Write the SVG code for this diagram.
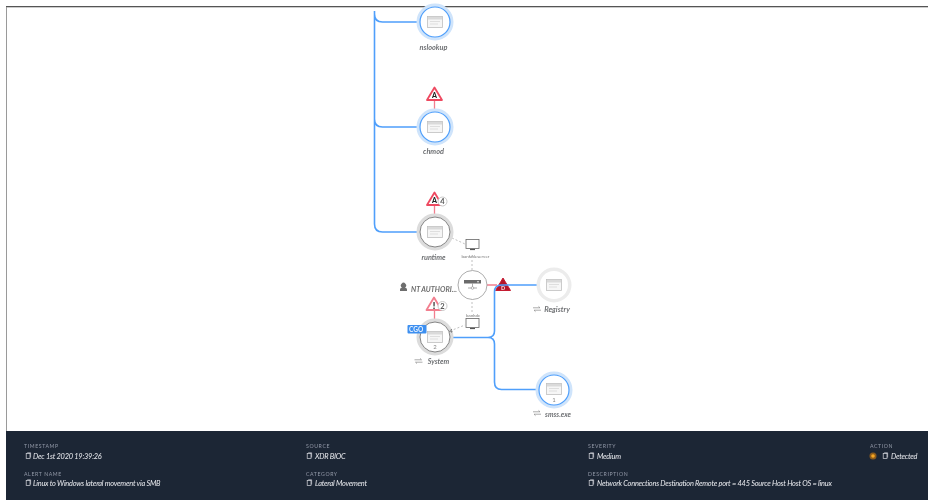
<svg xmlns="http://www.w3.org/2000/svg" width="928" height="500" viewBox="0 0 928 500">
<style>
text{font-family:Lato,"Liberation Sans",sans-serif}
.soft{filter:url(#soft)}
.lbl{font-size:7.300px;font-style:italic;font-weight:700;fill:#6f7174;text-anchor:middle}
.blue{fill:none;stroke:#4f9ffb;stroke-width:1.600}
.hot{fill:none;stroke:#f27f8f;stroke-width:1.300}
.dash{fill:none;stroke:#b0b0b0;stroke-width:.8;stroke-dasharray:2 2}
.halo-b{fill:#fff;stroke:#cfe4fb;stroke-width:7}
.ring-b{fill:#fff;stroke:#4f9ffb;stroke-width:1.200}
.halo-g{fill:#fff;stroke:#dcdcdc;stroke-width:5}
.halo-l{fill:#fff;stroke:#ececec;stroke-width:5}
.ring-g{fill:#fff;stroke:#858585;stroke-width:1}
.win{fill:#f6f6f6;stroke:#c0c0c0;stroke-width:.8}
.bar{fill:#dadada}
.tri{fill:#fff;stroke:#ee4a61;stroke-width:1.800;stroke-linejoin:round}
.k{font-size:5.200px;letter-spacing:.6px;fill:#8f98a7}
.v{font-size:7.400px;letter-spacing:-.23px;font-style:italic;fill:#e8ebef}
.cp{fill:none;stroke:#d5d9df;stroke-width:.7}
.small{font-size:4.500px;fill:#7a7a7a;text-anchor:middle}
.cnt{font-size:6px;fill:#888;text-anchor:middle}
</style>
<defs>
<filter id="soft" x="-5%" y="-5%" width="110%" height="110%"><feGaussianBlur stdDeviation=".4"/></filter>
<g id="w"><rect class="win" x="-7.500" y="-5.500" width="15" height="11"/><rect class="bar" x="-7" y="-5" width="14" height="2.500"/><path d="M-5-.5H5M-5 2H3" stroke="#dedede" stroke-width="1"/></g>
<g id="m"><rect x="-6.500" y="-4.500" width="13" height="9" fill="#fff" stroke="#666" stroke-width=".8"/><path d="M-2.500 5.500H2.500" stroke="#555" stroke-width="1.200"/></g>
<g id="c"><rect class="cp" x="-1.800" y="-2.600" width="3.800" height="5"/><path class="cp" d="M-.8-3.200H2.600V1.500"/></g>
<g id="r"><path d="M-4-1.200H3L1.500-2.600M4 1.200H-3L-1.500 2.600" fill="none" stroke="#888" stroke-width=".7"/></g>
</defs>
<rect width="928" height="500" fill="#fff"/>
<g class="soft">
<rect x="6" y="6" width="922" height="1.300" fill="#555"/>
<rect x="6" y="7" width="1" height="424" fill="#9a9a9a"/>
<g id="alert-d"><path d="M503 278L510.500 290.500H495.500Z" fill="#b3142a" stroke="#c51a30" stroke-width="1" stroke-linejoin="round"/><text x="503" y="290" font-size="5.500" font-weight="900" text-anchor="middle" fill="#f4d4d8">D</text></g>
<g id="connectors">
<path class="blue" d="M374.500 11V224Q374.500 232 382.500 232H420M374.500 14Q374.500 22 382.500 22H420M374.500 119Q374.500 127 382.500 127H420"/>
<path class="blue" d="M450 337.500H488Q494.500 337.500 494.500 331V292Q494.500 285 501.500 285H538M488 337.500Q494.500 337.500 494.500 344V382Q494.500 389.500 501.500 389.500H538"/>
<path class="hot" d="M434.500 100V112M434.500 205V217M434.500 310V322M487 285H497"/>
<path class="dash" d="M452 238L465 244M472 256V271M472 298V312M450 331L465 325"/>
</g>
<g id="nslookup"><circle class="halo-b" cx="435" cy="22" r="15"/><circle class="ring-b" cx="435" cy="22" r="15"/><use href="#w" x="435" y="22"/><text class="lbl" x="433.500" y="50">nslookup</text></g>
<g id="chmod"><circle class="halo-b" cx="435" cy="127" r="15"/><circle class="ring-b" cx="435" cy="127" r="15"/><use href="#w" x="435" y="127"/><text class="lbl" x="433.500" y="154">chmod</text>
<path class="tri" d="M434.500 87.500L442 100H427Z"/><text x="434.500" y="98" font-size="7" font-weight="900" text-anchor="middle" fill="#222">A</text></g>
<g id="runtime"><circle class="halo-g" cx="435" cy="232" r="16"/><circle class="ring-g" cx="435" cy="232" r="15"/><use href="#w" x="435" y="232"/><text class="lbl" x="433.500" y="260">runtime</text>
<path class="tri" d="M434.500 192.500L442 205H427Z"/><text x="434.500" y="203" font-size="7" font-weight="900" text-anchor="middle" fill="#222">A</text>
<circle cx="442.500" cy="201.500" r="4.500" fill="#fff" stroke="#bbb" stroke-width=".8"/><text x="442.500" y="204.300" font-size="7.500" font-weight="700" text-anchor="middle" fill="#555">4</text></g>
<g id="bankfileserver"><use href="#m" x="472.500" y="244"/><text class="small" x="475.500" y="258">bankfileserver</text></g>
<g id="hub"><circle cx="472.500" cy="285" r="14.500" fill="#fff" stroke="#a3a3a3" stroke-width=".9"/><rect x="464" y="280" width="17" height="3.500" fill="#6a6a6a"/><circle cx="478" cy="281.700" r=".8" fill="#fff"/><path d="M472.500 283.500V289M468 288H477" stroke="#888" stroke-width=".7"/><circle cx="472.500" cy="288" r="1.300" fill="#fff" stroke="#888" stroke-width=".6"/></g>
<g id="user"><path d="M400 291V289.500Q400 288 402 287.500A2.600 2.600 0 1 1 405 287.500Q407 288 407 289.500V291Z" fill="#6e6e6e"/><text x="411" y="291.500" font-size="7.200" font-style="italic" font-weight="700" fill="#6c6c6c">NT AUTHORI...</text></g>
<g id="registry"><circle class="halo-l" cx="554" cy="285" r="15"/><circle cx="554" cy="285" r="14" fill="#fff"/><use href="#w" x="554" y="285"/><use href="#r" x="537" y="309"/><text class="lbl" x="557" y="312" style="font-size:7.500px">Registry</text></g>
<g id="bankdc"><text class="small" x="473" y="317">bankdc</text><use href="#m" x="472.500" y="323"/></g>
<g id="system"><circle class="halo-g" cx="435" cy="337" r="16"/><circle class="ring-g" cx="435" cy="337" r="15"/><use href="#w" x="435" y="337"/><text class="cnt" x="435" y="349">2</text>
<rect x="407.500" y="325" width="19" height="8.500" rx="1" fill="#3c8ff0"/><text x="409" y="332" font-size="6.500" font-weight="700" fill="#e9f3ff">CGO</text>
<text x="451" y="333" font-size="6" text-anchor="middle" fill="#666">4</text>
<path class="tri" stroke-width="1.500" style="stroke:#f27f8f" d="M434 297.500L441.500 310H426.500Z"/><text x="434" y="308.500" font-size="9" font-weight="900" text-anchor="middle" fill="#222">!</text>
<circle cx="442.500" cy="306" r="4.500" fill="#fff" stroke="#bbb" stroke-width=".8"/><text x="442.500" y="308.800" font-size="7.500" font-weight="700" text-anchor="middle" fill="#555">2</text>
<use href="#r" x="418.500" y="361"/><text class="lbl" x="438.500" y="364" style="font-size:7.200px">System</text></g>
<g id="smss"><circle class="halo-b" cx="554" cy="390" r="15"/><circle class="ring-b" cx="554" cy="390" r="15"/><use href="#w" x="554" y="389"/><text class="cnt" x="554" y="402">1</text><use href="#r" x="537" y="413"/><text class="lbl" x="558" y="417" style="font-size:7px">smss.exe</text></g>
<g id="panel"><rect x="6" y="431" width="922" height="69" fill="#1f2736"/>
<text class="k" x="24" y="448">TIMESTAMP</text><use href="#c" x="28" y="456"/><text class="v" x="33" y="458.500">Dec 1st 2020 19:39:26</text>
<text class="k" x="24" y="476">ALERT NAME</text><use href="#c" x="28" y="483"/><text class="v" x="33" y="486">Linux to Windows lateral movement via SMB</text>
<text class="k" x="306" y="448">SOURCE</text><use href="#c" x="309" y="456"/><text class="v" x="315" y="458.500">XDR BIOC</text>
<text class="k" x="306" y="476">CATEGORY</text><use href="#c" x="309" y="483"/><text class="v" x="315" y="486">Lateral Movement</text>
<text class="k" x="588" y="448">SEVERITY</text><use href="#c" x="591" y="456"/><text class="v" x="597" y="458.500">Medium</text>
<text class="k" x="588" y="476">DESCRIPTION</text><use href="#c" x="591" y="483"/><text class="v" x="597" y="486">Network Connections Destination Remote port = 445 Source Host Host OS = linux</text>
<text class="k" x="870" y="448">ACTION</text><circle cx="873" cy="456" r="3.500" fill="#8a5a1c"/><circle cx="873" cy="456" r="1.800" fill="#f5a623"/><use href="#c" x="885" y="456"/><text class="v" x="891" y="458.500">Detected</text></g>
</g>
</svg>
